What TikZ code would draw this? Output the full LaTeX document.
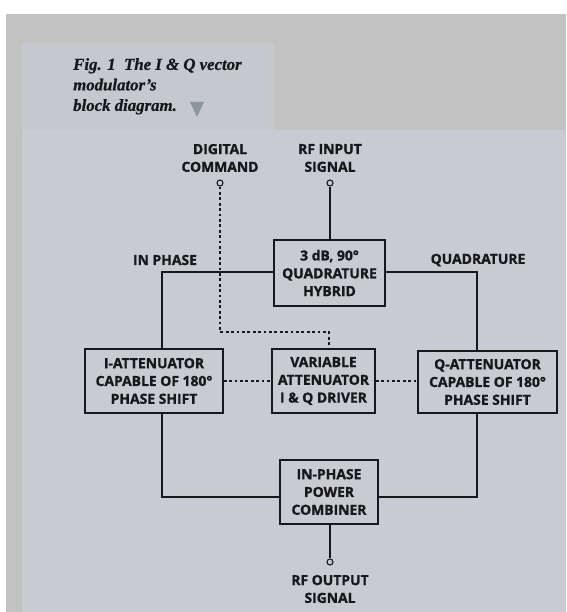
\documentclass[tikz,border=0pt]{standalone}
\usepackage{fontspec}
\setmainfont{Liberation Serif}[BoldItalicFeatures={FakeBold=0.8}]
\newfontfamily\labelfont{Open Sans}[BoldFeatures={FakeBold=1.2}]
\usetikzlibrary{positioning,calc}
\definecolor{bgmain}{RGB}{200,204,210}
\definecolor{bgdark}{RGB}{194,194,195}
\definecolor{bgcap}{RGB}{197,201,207}
\definecolor{ink}{RGB}{24,24,26}
\definecolor{tri}{RGB}{140,148,158}
\tikzset{
  lbl/.style={font=\labelfont\bfseries\fontsize{13.9}{17.8}\selectfont, text=ink, align=center, inner sep=0pt},
  blk/.style={lbl, draw=ink, line width=1.7pt, inner sep=0pt},
  wire/.style={draw=ink, line width=1.3pt},
  dwire/.style={draw=ink, line width=1.3pt, dash pattern=on 2.8pt off 2.6pt},
  term/.style={circle, draw=ink, line width=1.1pt, fill=bgmain, minimum size=6pt, inner sep=0pt},
}
\begin{document}
\begin{tikzpicture}[x=1pt,y=-1pt]
\useasboundingbox (0,0) rectangle (566,612);
% backgrounds
\fill[white] (0,0) rectangle (566,612);
\fill[bgdark] (6,14) rectangle (566,612);
\fill[bgcap] (22,43) rectangle (274,130);
\fill[bgmain] (22,130) rectangle (566,612);
% caption
\node[anchor=north west, align=left, inner sep=0pt, text=ink,
      font=\bfseries\itshape\fontsize{16.8}{20.5}\selectfont] (cap) at (73,58)
  {Fig. 1\ \ The I \& Q vector\\ modulator's\\ block diagram.};
\fill[tri] (190,102) -- (204,102) -- (197,117) -- cycle;
% blocks
\node[blk, minimum width=111pt, minimum height=66pt] (hyb) at (329.5,273)
  {3 dB, 90°\\ QUADRATURE\\ HYBRID};
\node[blk, minimum width=138pt, minimum height=64pt] (iatt) at (154,381)
  {I-ATTENUATOR\\ CAPABLE OF 180°\\ PHASE SHIFT};
\node[blk, minimum width=103pt, minimum height=64pt] (var) at (323.5,381)
  {VARIABLE\\ ATTENUATOR\\ I \& Q DRIVER};
\node[blk, minimum width=139pt, minimum height=62pt] (qatt) at (487.5,382)
  {Q-ATTENUATOR\\ CAPABLE OF 180°\\ PHASE SHIFT};
\node[blk, minimum width=98pt, minimum height=64pt] (comb) at (329,492)
  {IN-PHASE\\ POWER\\ COMBINER};
% labels
\node[lbl] (dig) at (220,158) {DIGITAL\\ COMMAND};
\node[lbl] (rfin) at (330,158) {RF INPUT\\ SIGNAL};
\node[lbl] (inph) at (165,260) {IN PHASE};
\node[lbl] (quad) at (478,260) {QUADRATURE};
\node[lbl] (rfout) at (330,589) {RF OUTPUT\\ SIGNAL};
% terminals
\node[term] (tdig) at (220,183) {};
\node[term] (tin) at (330,183) {};
\node[term] (tout) at (330,562) {};
\coordinate (dbend) at (220,332);
% wires
\draw[wire] (tin) -- (hyb.north -| tin);
\draw[wire] ([yshift=1pt]hyb.west) -| ([xshift=8pt]iatt.north);
\draw[wire] ([yshift=1pt]hyb.east) -| ([xshift=-10.5pt]qatt.north);
\draw[wire] ([xshift=8pt]iatt.south) |- ([yshift=-5pt]comb.west);
\draw[wire] ([xshift=-10.5pt]qatt.south) |- ([yshift=-5pt]comb.east);
\draw[wire] (comb.south -| tout) -- (tout);
% dashed control
\draw[dwire] (tdig) -- (dbend) -| ([xshift=5.5pt]var.north);
\draw[dwire] (iatt.east) -- (var.west);
\draw[dwire] (var.east) -- ([yshift=1pt]qatt.west);
\end{tikzpicture}
\end{document}
